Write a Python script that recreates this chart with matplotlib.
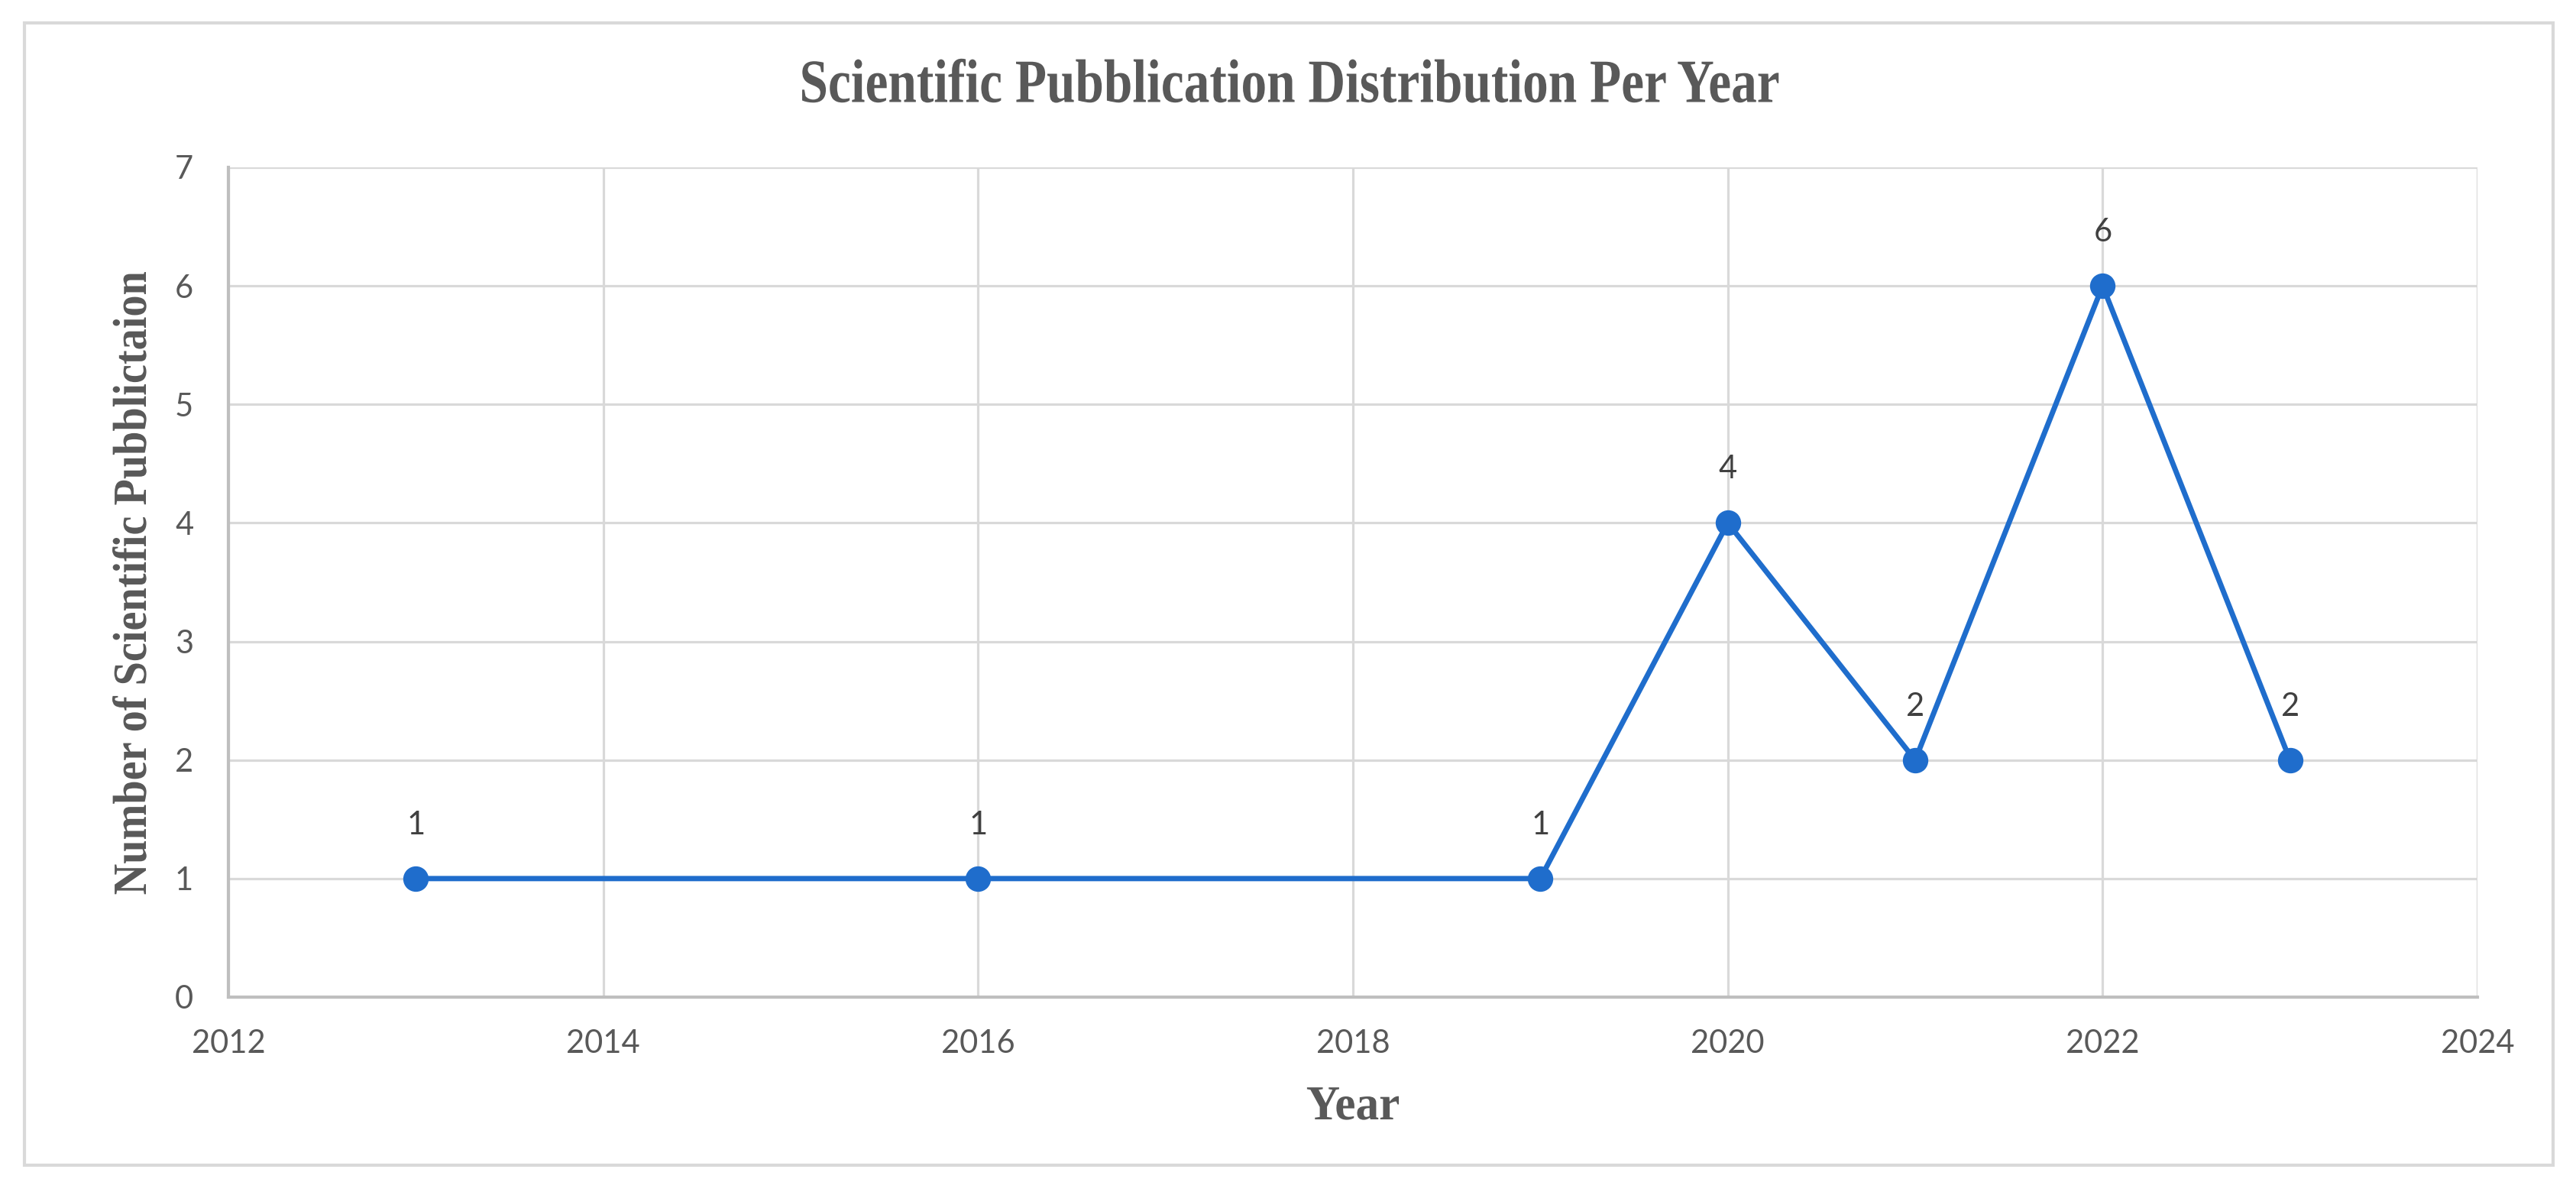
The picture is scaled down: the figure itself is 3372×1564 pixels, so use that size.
import matplotlib
matplotlib.use("Agg")
import matplotlib.pyplot as plt
from matplotlib.patches import Rectangle
from matplotlib.patheffects import AbstractPathEffect
from matplotlib.transforms import Affine2D

# ---- data ----
years = [2013, 2016, 2019, 2020, 2021, 2022, 2023]
counts = [1, 1, 1, 4, 2, 6, 2]
x_ticks = [2012, 2014, 2016, 2018, 2020, 2022, 2024]
y_ticks = [0, 1, 2, 3, 4, 5, 6, 7]
title = "Scientific Pubblication Distribution Per Year"
xlabel = "Year"
ylabel = "Number of Scientific Pubblictaion"

W, H, DPI = 3372, 1564, 100


class Squeeze(AbstractPathEffect):
    """Condense glyphs along one axis about a fixed display coordinate."""
    def __init__(self, factor, center, axis="x"):
        super().__init__()
        self.factor = factor
        self.center = center
        self.axis = axis

    def draw_path(self, renderer, gc, tpath, affine, rgbFace=None):
        if self.axis == "x":
            t = Affine2D().translate(-self.center, 0).scale(self.factor, 1).translate(self.center, 0)
        else:
            t = Affine2D().translate(0, -self.center).scale(1, self.factor).translate(0, self.center)
        renderer.draw_path(gc, tpath, affine + t, rgbFace)


fig = plt.figure(figsize=(W / DPI, H / DPI), dpi=DPI)
fig.patch.set_facecolor("white")

# outer border
fig.add_artist(Rectangle((32 / W, 1 - 1525 / H), (3342 - 32) / W, (1525 - 30) / H,
                         transform=fig.transFigure, fill=False,
                         edgecolor="#d9d9d9", linewidth=3))

ax_l, ax_r = 299 / W, 3243 / W
ax_b, ax_t = 1 - 1305 / H, 1 - 219 / H
ax = fig.add_axes([ax_l, ax_b, ax_r - ax_l, ax_t - ax_b])

ax.plot(years, counts, color="#1f6dcc", linewidth=5, marker="o",
        markersize=23, zorder=3, clip_on=False)
for x, y in zip(years, counts):
    ax.annotate(str(y), (x, y), xytext=(0, 70), textcoords="offset pixels",
                ha="center", va="center", fontsize=30, color="#404040",
                family="Lato")

ax.set_xlim(2012, 2024)
ax.set_ylim(0, 7)
ax.set_xticks(x_ticks)
ax.set_yticks(y_ticks)
ax.tick_params(length=0, labelsize=30, labelcolor="#595959")
ax.tick_params(axis="y", pad=33)
ax.tick_params(axis="x", pad=30)
for lab in ax.get_xticklabels() + ax.get_yticklabels():
    lab.set_family("Lato")

ax.grid(True, color="#d9d9d9", linewidth=2.3)
ax.set_axisbelow(True)
for s in ("top", "right"):
    ax.spines[s].set_visible(False)
for s in ("left", "bottom"):
    ax.spines[s].set_color("#bfbfbf")
    ax.spines[s].set_linewidth(3)

# title
tcx = 1687
fig.text(tcx / W, 1 - 114 / H, title, ha="center", va="center",
         fontsize=58, fontweight="bold", family="Liberation Serif", color="#595959",
         path_effects=[Squeeze(0.836, tcx, "x")])

# x label
fig.text(1771 / W, 1 - 1450 / H, xlabel, ha="center", va="center",
         fontsize=46, fontweight="bold", family="Liberation Serif", color="#595959",
         path_effects=[Squeeze(0.96, 1771, "x")])

# y label
ycy = H - 763
fig.text(176 / W, ycy / H, ylabel, ha="center", va="center", rotation=90,
         fontsize=45, fontweight="bold", family="Liberation Serif", color="#595959",
         path_effects=[Squeeze(0.9, ycy, "y")])

fig.savefig("out.png", dpi=DPI, facecolor="white")
